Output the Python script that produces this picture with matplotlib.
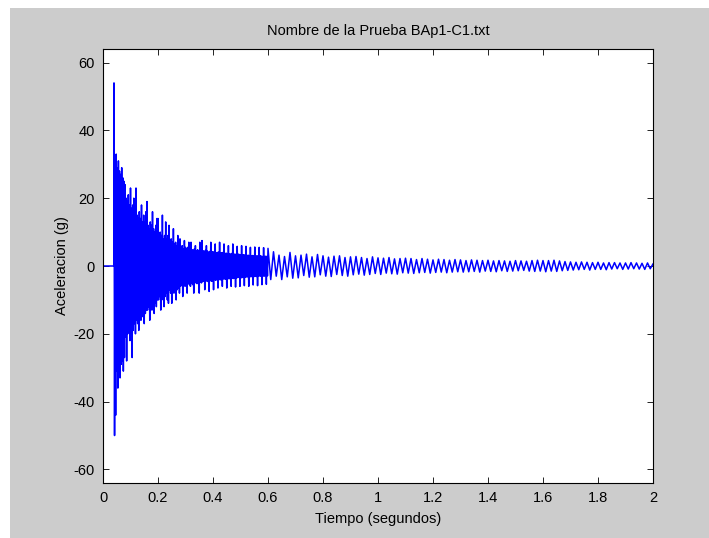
import numpy as np
import matplotlib.pyplot as plt
from matplotlib.patches import Rectangle

# ---- registro de aceleracion (g) ----
# antes del golpe la senal esta en cero
pre_t = [0.0, 0.04]
pre_g = [0.0, 0.0]

# picos de la respuesta justo despues del impacto, cada 0.002 s desde t = 0.04
t_impacto = 0.04
dt_ini = 0.002
picos_ini = [
    54, -50, 30, -44, 33, -31, 29, -36, 31, -30, 28, -33, 27, -29, 29, -28, 26, -31, 25, -27,
    24, -21, 20, -28, 19, -20, 21, -19, 18, -22, 23, -18, 17, -27, 18, -19, 20, -17, 16, -20,
    23, -16, 15, -17, 14, -19, 16, -15, 14, -16, 18, -14, 13, -15, 15, -17, 13, -14, 16, -13,
    19, -13, 12, -12, 11, -16, 13, -11, 12, -13, 16, -12, 11, -14, 10, -11, 12, -12, 14, -10,
    14, -10, 9, -9, 10, -13, 9, -10, 15, -9, 8, -12, 9, -9, 13, -8, 8, -10, 9, -11,
    12, -7, 7, -8, 8, -11, 7, -7, 11, -8, 6.5, -7, 7, -10, 6, -7, 9, -6.5, 6, -8,
    8, -6, 5.5, -5.5, 6, -9, 5, -6, 7.5, -5, 5.5, -6, 5, -8, 5.5, -5, 7, -5.5, 4.8, -6,
    7, -5, 4.8, -5.5, 4.5, -8, 5, -4.8, 6, -5, 4.5, -5.2, 4.8, -4.6, 4.4, -8, 7, -4.8, 4.5, -5,
    7.5, -4.6, 4.5, -4.4, 4.2, -7, 4.6, -4.5, 6, -4.3, 4.4, -4.6, 4, -7.5, 4.3, -4.2, 7, -4.5, 4.2, -4.4,
    4.2, -7, 4, -4, 6.5, -4.2, 3.8, -4, 4, -6.5, 4.1, -3.9, 7, -4.1, 3.8, -4, 3.9, -6, 4, -3.8,
    6.5, -3.8, 3.7, -3.9, 3.8, -6.5, 3.6, -3.8, 6, -3.7, 3.6, -3.8, 3.5, -6, 3.7, -3.6, 6.5, -3.7, 3.5, -3.6,
    3.5, -6.2, 3.4, -3.5, 5.8, -3.4, 3.5, -3.3, 3.4, -6, 3.3, -3.5, 6, -3.4, 3.2, -3.3, 3.3, -5.8, 3.2, -3.3,
    5.8, -3.2, 3.1, -3.2, 3.2, -6, 3, -3.1, 5.5, -3.2, 3, -3, 3.1, -5.6, 3, -3.1, 5.6, -3, 2.9, -3.1,
    3, -5.8, 2.9, -3, 5.5, -2.9, 3, -3, 2.9, -5.5, 2.8, -2.9, 5.4, -3, 2.8, -2.8, 2.9, -5.4, 2.8, -2.9,
    5.2,
]

# oscilacion libre (~50 Hz): picos cada 0.01 s desde t = 0.61
dt_fin = 0.01
picos_fin = [
    -4, 4.2, -3, 3.2, -4, 2.8, -3.2, 4, -3.6, 3,
    -3.5, 3.2, -2.8, 3.5, -3.3, 2.7, -3.2, 3.4, -2.6, 3,
    -3, 2.6, -3.1, 2.9, -2.5, 3, -2.8, 2.5, -3, 2.7,
    -2.6, 2.8, -2.4, 2.5, -2.7, 2.2, -2.5, 2.7, -2.2, 2.4,
    -2.5, 2.3, -2.1, 2.5, -2.3, 2.1, -2.4, 2.2, -2, 2.3,
    -2.1, 2.2, -2.2, 1.9, -2, 2.2, -1.9, 2, -2.1, 1.8,
    -1.9, 2, -1.8, 1.9, -2, 1.7, -1.8, 1.9, -1.7, 1.8,
    -1.8, 1.6, -1.7, 1.8, -1.6, 1.7, -1.8, 1.6, -1.5, 1.7,
    -1.6, 1.5, -1.7, 1.6, -1.4, 1.5, -1.6, 1.4, -1.5, 1.6,
    -1.4, 1.5, -1.3, 1.4, -1.5, 1.6, -1.6, 1.7, -1.5, 1.6,
    -1.7, 1.6, -1.5, 1.7, -1.6, 1.5, -1.4, 1.3, -1.3, 1.2,
    -1.2, 1.1, -1.1, 1.2, -1, 1.1, -1.2, 1, -1, 1.1,
    -1, 0.9, -1.1, 1, -0.9, 1, -0.8, 0.9, -1, 0.9,
    -0.9, 1, -0.8, 0.9, -0.9, 0.8, -1, 0.9, -0.8, 0.6,
]

t_ini = t_impacto + dt_ini * np.arange(len(picos_ini))
t_fin = t_ini[-1] + dt_fin * np.arange(1, len(picos_fin) + 1)

tiempo = np.concatenate([pre_t, t_ini, t_fin])
acel = np.concatenate([pre_g, picos_ini, picos_fin])

plt.rcParams['font.family'] = ['Liberation Sans', 'DejaVu Sans']
plt.rcParams['axes.unicode_minus'] = False

fig = plt.figure(figsize=(7.09, 5.38), dpi=100, facecolor='white')
# fondo gris de la ventana
fondo = Rectangle((10 / 709, 0), 1, 1 - 8 / 538, transform=fig.transFigure,
                  facecolor='#cccccc', edgecolor='none', zorder=-10)
fig.add_artist(fondo)

ax = fig.add_axes([103 / 709, 1 - 483 / 538, 550 / 709, 434 / 538], zorder=1)
ax.set_facecolor('white')
ax.plot(tiempo, acel, color='#0000ff', linewidth=1.1)

ax.set_xlim(0, 2)
ax.set_ylim(-64, 64)
ax.set_xticks(np.arange(0, 2.01, 0.2))
ax.set_xticklabels(['0', '0.2', '0.4', '0.6', '0.8', '1', '1.2', '1.4', '1.6', '1.8', '2'])
ax.set_yticks(np.arange(-60, 61, 20))
ax.tick_params(direction='in', length=4, width=0.6, top=True, right=True,
               labelsize=10.5, pad=6, colors='black')
for sp in ax.spines.values():
    sp.set_linewidth(0.8)

ax.set_title('Nombre de la Prueba BAp1-C1.txt', fontsize=10.5, pad=10)
ax.set_xlabel('Tiempo (segundos)', fontsize=10.5, labelpad=5)
ax.set_ylabel('Aceleracion (g)', fontsize=10.5, labelpad=3)

fig.savefig('out.png', dpi=100, facecolor=fig.get_facecolor())
